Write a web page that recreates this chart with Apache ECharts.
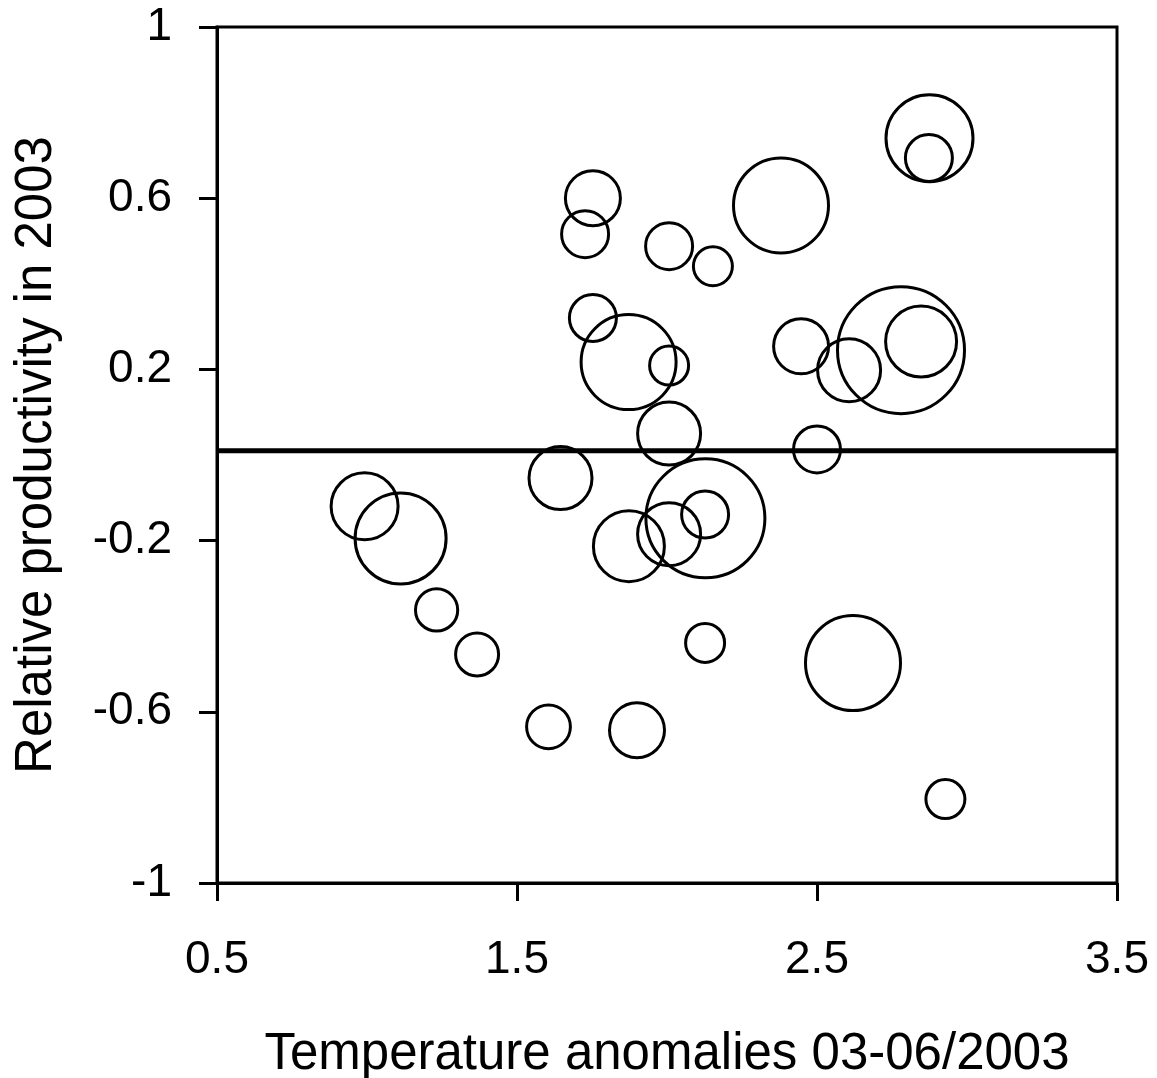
<!DOCTYPE html>
<html>
<head>
<meta charset="utf-8">
<script src="https://cdn.jsdelivr.net/npm/echarts@6/dist/echarts.min.js"></script>
<style>
html,body{margin:0;padding:0;background:#fff;}
#chart{width:1157px;height:1078px;}
</style>
</head>
<body>
<div id="chart"></div>
<script>
// Temperature anomaly (x), relative productivity (y), bubble size class
var tempAnomaly = [2.875, 2.873, 1.753, 1.727, 2.007, 2.153, 2.38, 1.753, 1.872, 2.007,
                   2.447, 2.607, 2.78, 2.847, 2.007, 2.5, 1.645, 0.992, 1.112, 1.873,
                   2.007, 2.128, 2.127, 1.232, 1.367, 2.127, 2.62, 1.605, 1.9, 2.928];
var relProductivity = [0.740, 0.694, 0.600, 0.516, 0.488, 0.441, 0.583, 0.320, 0.217, 0.209,
                       0.254, 0.198, 0.245, 0.265, 0.050, 0.013, -0.054, -0.120, -0.195, -0.213,
                       -0.185, -0.148, -0.139, -0.362, -0.466, -0.439, -0.486, -0.635, -0.643, -0.804];
var sizeClass = [11, 6, 7, 6, 6, 5, 12, 6, 12, 5,
                 7, 8, 16, 9, 8, 6, 8, 8.5, 11.5, 9,
                 8, 15, 6, 5.4, 5.5, 5, 12, 5.6, 7, 5];
var referenceLevel = 0.01;
var xTicks = [0.5, 1.5, 2.5, 3.5];
var yTicks = [-1, -0.6, -0.2, 0.2, 0.6, 1];
var xTitle = 'Temperature anomalies 03-06/2003';
var yTitle = 'Relative productivity in 2003';

var points = tempAnomaly.map(function (x, i) { return [x, relProductivity[i], sizeClass[i]]; });
var FONT = '"Liberation Sans", Arial, sans-serif';

var chart = echarts.init(document.getElementById('chart'), null, {renderer: 'canvas'});
chart.setOption({
  animation: false,
  backgroundColor: '#fff',
  grid: {left: 217, top: 27, right: 40, bottom: 195, containLabel: false, outerBoundsMode: 'none',
    show: true, borderColor: '#000', borderWidth: 3, backgroundColor: 'transparent'},
  xAxis: {
    type: 'value', min: 0.5, max: 3.5,
    name: xTitle, nameLocation: 'middle', nameGap: 146,
    nameTextStyle: {fontFamily: FONT, fontSize: 51, color: '#000'},
    axisLine: {show: true, onZero: false, lineStyle: {color: '#000', width: 3}},
    axisTick: {show: true, inside: false, length: 18, customValues: xTicks, lineStyle: {color: '#000', width: 3}},
    axisLabel: {customValues: xTicks, margin: 54, fontFamily: FONT, fontSize: 46, color: '#000',
      formatter: function (v) { return v.toFixed(1); }},
    splitLine: {show: false}
  },
  yAxis: {
    type: 'value', min: -1, max: 1,
    name: yTitle, nameLocation: 'middle', nameGap: 155,
    nameTextStyle: {fontFamily: FONT, fontSize: 51, color: '#000'},
    axisLine: {show: true, onZero: false, lineStyle: {color: '#000', width: 3}},
    axisTick: {show: true, inside: false, length: 18, customValues: yTicks, lineStyle: {color: '#000', width: 3}},
    axisLabel: {customValues: yTicks, margin: 45, fontFamily: FONT, fontSize: 46, color: '#000',
      formatter: function (v) { return String(v); }},
    splitLine: {show: false}
  },
  series: [
    {
      type: 'line',
      data: [[0.5, referenceLevel], [3.5, referenceLevel]],
      symbol: 'none',
      lineStyle: {color: '#000', width: 5},
      silent: true,
      z: 3
    },
    {
      type: 'scatter',
      data: points,
      symbol: 'circle',
      symbolSize: function (d) { return d[2] * 8 - 1; },
      itemStyle: {color: 'rgba(0,0,0,0)', borderColor: '#000', borderWidth: 3, opacity: 1},
      emphasis: {disabled: true},
      silent: true,
      z: 4
    }
  ]
});
</script>
</body>
</html>
